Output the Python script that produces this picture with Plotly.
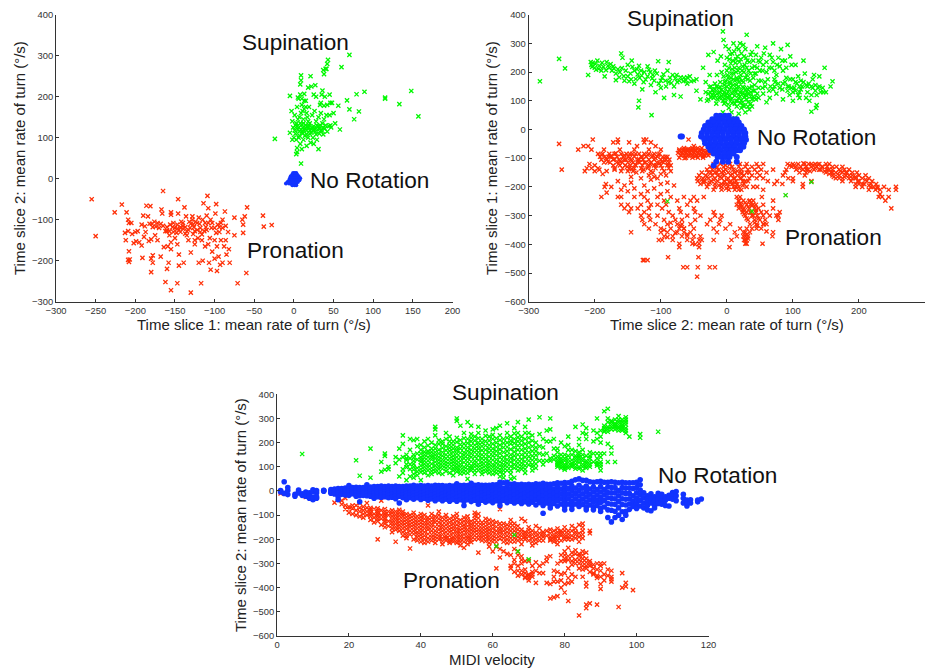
import plotly.graph_objects as go

W, H = 932, 668
RED, GREEN, BLUE = "#ff3008", "#00f800", "#1233ff"
FONT = "Liberation Sans"

# ---------- Panel 1 data (time slice 1, time slice 2) ----------
p1_red = [(-255,-50),(-250,-140),(-226,-82),(-217,-63),(-213,-132),(-212,-150),(-211,-82),(-209,-100),(-209,-128),(-208,-108),(-209,-198),(-208,-203),(-208,-177),(-207,-197),(-205,-108),(-204,-135),(-202,-157),(-200,-130),(-199,-153),(-197,-128),(-195,-155),(-192,-112),(-192,-163),(-191,-193),(-190,-90),(-189,-142),(-188,-116),(-187,-130),(-186,-66),(-184,-92),(-183,-152),(-182,-110),(-181,-67),(-180,-148),(-180,-195),(-179,-110),(-180,-228),(-178,-187),(-178,-205),(-176,-105),(-175,-138),(-174,-117),(-172,-150),(-170,-120),(-168,-190),(-167,-75),(-166,-85),(-165,-115),(-165,-30),(-164,-167),(-162,-128),(-160,-118),(-160,-220),(-162,-252),(-159,-165),(-158,-205),(-157,-128),(-156,-112),(-155,-82),(-155,-88),(-155,-155),(-155,-172),(-155,-272),(-152,-108),(-150,-120),(-150,-145),(-148,-132),(-147,-112),(-147,-160),(-147,-255),(-146,-50),(-146,-85),(-145,-185),(-145,-212),(-143,-130),(-142,-105),(-140,-115),(-139,-205),(-138,-70),(-137,-118),(-136,-92),(-135,-138),(-133,-125),(-132,-105),(-130,-180),(-130,-278),(-128,-92),(-127,-135),(-126,-118),(-125,-160),(-124,-105),(-122,-125),(-121,-145),(-120,-95),(-120,-205),(-118,-130),(-117,-255),(-115,-100),(-115,-200),(-114,-60),(-113,-128),(-112,-165),(-110,-90),(-110,-125),(-109,-42),(-108,-72),(-107,-205),(-106,-145),(-105,-100),(-105,-222),(-104,-120),(-103,-178),(-100,-150),(-100,-195),(-99,-85),(-98,-62),(-97,-225),(-96,-112),(-95,-190),(-94,-130),(-93,-210),(-92,-108),(-90,-205),(-90,-120),(-88,-165),(-87,-80),(-86,-150),(-86,-115),(-85,-185),(-83,-130),(-82,-172),(-81,-205),(-75,-95),(-75,-138),(-71,-255),(-65,-100),(-64,-112),(-64,-132),(-60,-230),(-62,-92),(-59,-70),(-39,-90),(-38,-117),(-28,-113),(-140,-122),(-125,-128),(-118,-120),(-160,-128),(-135,-128),(-145,-125),(-128,-100),(-140,-108),(-112,-108),(-100,-120),(-152,-130),(-168,-110),(-130,-110),(-122,-108),(-108,-108),(-143,-118),(-137,-134),(-131,-120),(-127,-112),(-119,-110),(-116,-136),(-111,-118),(-147,-122),(-153,-118),(-157,-138),(-103,-108),(-98,-132),(-94,-118),(-90,-100),(-172,-108),(-178,-118),(-125,-150),(-133,-150),(-116,-150),(-108,-160),(-97,-165),(-92,-150)]
p1_green = [(-24,97),(70,302),(60,272),(43,290),(42,280),(40,268),(37,265),(38,255),(41,268),(9,252),(9,240),(8,230),(21,250),(27,228),(18,222),(22,225),(36,215),(35,205),(45,205),(34,185),(39,200),(-5,202),(5,198),(8,205),(13,207),(25,205),(28,200),(33,180),(38,178),(42,180),(46,185),(48,185),(56,178),(67,191),(79,206),(89,212),(115,198),(115,195),(133,182),(148,214),(157,152),(70,169),(82,164),(76,145),(58,120),(52,135),(50,160),(45,155),(9,37),(3,60),(4,65),(10,72),(4,75),(31,72),(-5,112),(-3,165),(-2,140),(-1,125),(-2,95),(1,155),(2,130),(2,110),(3,95),(4,175),(5,145),(5,120),(6,195),(7,105),(8,135),(8,85),(9,160),(10,180),(10,115),(11,125),(12,95),(12,145),(13,170),(14,105),(15,130),(15,190),(16,80),(16,118),(17,150),(18,100),(18,125),(19,175),(20,110),(20,135),(21,88),(22,120),(23,155),(24,100),(25,128),(25,85),(26,165),(27,115),(28,140),(29,95),(30,120),(31,150),(32,110),(33,130),(34,160),(35,118),(36,135),(37,108),(38,145),(39,122),(40,130),(41,155),(42,115),(44,128),(46,130),(47,125),(3,135),(6,125),(9,120),(11,110),(14,122),(17,128),(20,118),(23,125),(26,122),(29,130),(32,122),(6,100),(0,100),(12,135),(18,140),(1,118),(4,128),(7,115),(10,132),(13,118),(16,108),(19,130),(22,112),(25,118),(28,108),(31,128),(34,118),(37,125),(7,150),(11,165),(15,175),(13,190),(10,195),(16,160)]
p1_blue_rows = [(14,[-1,1,3]),(10,[-2,0,2,4]),(6,[-4,-2,0,2,4,6]),(1,[-5,-3,-1,1,3,6,8]),(-4,[-6,-4,-2,0,2,4,7]),(-8,[-8,-5,-2,1,3,5]),(-12,[-10,-6,-3,0,3]),(-16,[-2,1,3])]

# ---------- Panel 2 data (time slice 2, time slice 1) ----------
p2_green = [(-283,168),(-254,246),(-245,213),(-133,100),(-134,77),(-114,50),(-206,235),(-205,225),(-200,215),(-196,240),(-190,205),(-185,185),(-182,235),(-178,215),(-172,220),(-168,195),(-165,210),(-160,265),(-158,250),(-155,170),(-150,225),(-146,195),(-144,240),(-140,160),(-136,210),(-132,180),(-128,140),(-125,200),(-120,220),(-115,155),(-112,190),(-108,130),(-104,238),(-100,170),(-95,110),(-92,150),(-88,235),(-82,190),(-80,120),(-75,165),(-70,115),(-65,180),(-60,160),(-56,185),(-50,170),(-46,175),(-210,190),(-203,232),(-198,208),(-193,222),(-187,218),(-180,222),(-174,205),(-168,172),(-162,200),(-156,186),(-150,185),(-145,175),(-140,205),(-135,192),(-130,205),(-126,165),(-120,185),(-116,200),(-110,170),(-106,195),(-100,145),(-96,192),(-88,165),(-84,162),(-78,178),(-72,170),(-66,168),(-60,182),
(-46,135),(-40,105),(-36,215),(-32,165),(-30,100),(-28,260),(-26,190),(-22,120),(-20,270),(-18,140),(-16,90),(-14,240),(-12,110),(-10,165),(-8,200),(-6,60),(-4,130),(-2,95),(0,150),(-20,110),(-25,130),(-15,125),(-12,145),(-8,115),(-4,155),(-2,120),(2,110),(4,140),(6,105),(8,125),(10,155),(12,90),(14,130),(16,100),(18,150),(20,115),(22,135),(24,95),(26,145),(28,120),(30,105),(32,140),(34,125),(36,90),(38,150),(40,115),(42,135),(44,105),(46,125),(48,145),(-28,125),(-24,150),(-18,160),(-10,130),(-6,100),(0,125),(5,160),(12,140),(18,120),(24,125),(30,130),(36,115),(42,155),(48,110),(3,75),(7,60),(12,40),(18,55),(22,75),(28,60),(34,70),(15,80),(25,85),(38,80),(-5,185),(-3,225),(0,205),(0,250),(2,180),(3,280),(4,165),(6,230),(7,195),(8,265),(10,175),(10,300),(12,215),(14,245),(15,180),(15,285),(17,205),(18,165),(19,235),(20,300),(21,190),(22,265),(23,170),(24,220),(25,295),(26,200),(28,180),(29,250),(30,330),(30,215),(32,175),(34,235),(36,195),(38,270),(40,180),(42,220),(44,195),(46,290),(48,240),(50,205),(52,170),(-6,342),(-5,312),(-2,290),(-9,255),(-15,190),(-3,165),
(52,250),(55,225),(58,285),(60,200),(62,175),(65,260),(68,215),(70,235),(70,300),(73,165),(75,190),(78,250),(80,220),(82,280),(85,160),(85,205),(88,240),(90,180),(92,295),(94,150),(96,255),(98,225),(100,175),(102,145),(104,225),(106,160),(108,185),(110,130),(112,170),(114,150),(116,240),(118,195),(120,155),(122,130),(124,160),(128,120),(130,145),(132,190),(134,155),(136,120),(138,145),(140,185),(142,130),(145,145),(148,215),(150,130),(157,150),(160,168),(130,175),(125,100),(120,110),(110,110),(100,100),(95,120),(85,105),(75,125),(70,140),(65,110),(60,95),(55,125),(135,75),(128,62),(136,85),(54,145),(58,165),(66,150),(72,175),(80,145),(88,165),(96,175),(104,165),(112,140)]
p2_green_more = [(-204,218),(-199,228),(-194,211),(-189,232),(-183,207),(-176,228),(-171,212),(-163,182),(-159,214),(-153,205),(-148,168),(-143,218),(-138,176),(-133,222),(-129,188),(-123,174),(-118,208),(-113,178),(-109,205),(-103,160),(-98,180),(-93,170),(-90,205),(-86,180),(-80,150),(-76,190),(-70,182),(-62,172),(-54,168),
(-32,130),(-28,105),(-26,148),(-24,112),(-22,138),(-20,128),(-18,118),(-16,150),(-14,105),(-12,128),(-10,112),(-8,138),(-6,122),(-4,108),(-2,142),(0,112),(2,130),(4,118),(6,148),(8,108),(10,135),(12,118),(14,100),(16,140),(18,110),(20,130),(22,102),(24,148),(26,112),(28,138),(30,118),(32,95),(34,145),(36,130),(38,105),(40,135),(42,110),(-10,148),(-4,90),(2,88),(8,92),(14,155),(20,92),(26,80),(32,80),(-2,170),(1,190),(3,215),(4,245),(5,262),(6,180),(8,210),(9,240),(10,195),(11,272),(12,170),(13,232),(14,200),(16,255),(16,175),(18,215),(18,280),(20,180),(21,245),(23,205),(25,165),(26,255),(27,225),(28,280),(30,190),(31,240),(33,205),(35,170),(36,260),(38,215),(40,240),(42,195),(44,260),(46,215),(48,170),(50,235),(54,205),(56,265),(60,235),(64,215),(68,250),(72,205),(76,225),(84,240),(90,215),(58,150),(64,135),(72,150),(78,160),(84,140),(92,150),(98,145),(104,135),(110,150),(116,165),(122,150),(128,150),(134,135),(140,150),(146,130),(100,130),(108,120),(92,135)]
p2_green_over = [(128,-183),(89,-229),(38,-285),(-90,-250)]
p2_red_rows = [
(-85,[-195,-188,-178,-170,-160,-152,-143,-133,-125,-118,-110,-102]),
(-95,[-192,-185,-176,-166,-157,-149,-140,-130,-122,-113,-105,-97,-90]),
(-105,[-190,-182,-172,-163,-153,-145,-135,-127,-118,-110,-100,-92,-87]),
(-115,[-186,-177,-167,-158,-150,-142,-132,-123,-115,-106,-96,-88]),
(-125,[-172,-162,-154,-146,-138,-128,-118,-110,-100,-90,-85]),
(-135,[-212,-205,-195,-170,-158,-148,-140,-130,-120,-108,-98]),
(-145,[-215,-200,-182,-160,-150,-142,-128,-115,-95,-85]),
(-70,[-225,-205,-186,-162,-140,-118,-100,-72,-66,-60,-54,-48]),
(-65,[-65,-52,-44,-38]),
(-75,[-72,-66,-60,-54,-48,-42,-36,-30]),
(-82,[-74,-68,-62,-56,-50,-44,-38,-32,-26,-22]),
(-90,[-70,-64,-58,-52,-46,-40,-34,-28]),
(-98,[-72,-62,-52,-44,-36]),
(-58,[-217,-210,-136,-108,-50]),
(-45,[-172,-165,-148,-125,-115]),
(-35,[-126,-122,-203,-165,-58]),
(-50,[-254]),
(-140,[-250]),
(-120,[-20,-10,5,20,30,45,55,92,100,108,118,128,134,140,150,155]),
(-130,[-25,-15,-5,8,18,28,38,48,98,104,112,120,128,136,144,152,160,166,175]),
(-140,[-30,-22,-12,-2,10,22,32,42,52,70,90,105,115,122,132,140,152,160,170,178,185]),
(-150,[-38,-28,-18,-8,2,12,22,34,46,60,88,110,120,150,158,165,175,182,190,197]),
(-160,[-42,-32,-22,-14,-4,6,16,26,38,50,85,118,160,170,180,190,200,210]),
(-170,[-45,-36,-28,-18,-8,2,12,22,34,45,55,93,100,165,175,185,195,205,215]),
(-180,[-44,-34,-24,-14,-4,6,14,24,32,62,76,100,128,175,188,198,212,220]),
(-190,[-40,-28,-18,-8,0,8,16,26,72,84,115,200,208,218,226]),
(-200,[-30,-18,-8,2,10,18,30,40,46,115,195,205,218,228,238,256]),
(-210,[-20,-8,3,12,22,55,215,225,232,245,256]),
(-235,[-165,-160,-190,-140,-125,-105,-85,-65,-50,-35,15,20,53,230,235,245]),
(-248,[-120,-95,-75,-55,-45,18,25,35,40,70,240]),
(-262,[-160,-150,-130,-115,-105,-92,-60,15,22,30,36,40,44,55]),
(-275,[-155,-145,-135,-118,-98,-72,-50,18,26,34,42,48,70,249]),
(-288,[-148,-125,-88,-70,-48,-20,24,30,36,44,52,60,80]),
(-300,[-130,-118,-105,-82,-60,-40,-18,-8,28,38,46,55,65,75,78]),
(-315,[-128,-116,-95,-78,-68,-48,-25,-10,32,42,50,58,78]),
(-330,[-125,-108,-90,-75,-68,-55,-30,-12,5,35,45,55,60]),
(-345,[-118,-100,-85,-72,-65,-50,-20,-2,20,30,45]),
(-358,[-145,-100,-90,-75,-65,-55,-15,12,25,28,35,70]),
(-372,[-95,-82,-68,-60,-50,-40,15,25,28,32,69]),
(-385,[-103,-98,-82,-60,-42,-38,-20,7,28,30]),
(-398,[-72,-52,-42,30,28,54]),
(-410,[-72,-42,4]),
(-445,[-43,-89]),
(-455,[-127,-120,-125]),
(-480,[-66,-44,-26,-18,-60]),
(-513,[-45]),
]
p2_red_more = [(-190,-88),(-183,-100),(-175,-92),(-168,-83),(-162,-110),(-155,-90),(-147,-100),(-138,-85),(-135,-112),(-128,-96),(-120,-88),(-116,-120),(-108,-100),(-104,-88),(-98,-112),(-93,-95),(-89,-122),(-180,-112),(-170,-103),(-164,-120),(-156,-105),(-151,-130),(-144,-110),(-139,-122),(-133,-104),(-125,-115),(-119,-130),(-112,-90),(-107,-125),(-102,-118),(-94,-108),(-147,-85),(-144,-138),(-137,-150),(-126,-140),(-118,-160),(-112,-150),(-105,-170),(-100,-155),(-92,-160),(-88,-135),(-170,-140),(-178,-95),(-208,-120),(-200,-125),(-193,-140),(-188,-155),(-185,-200),(-183,-190),(-182,-220),
(-69,-78),(-63,-72),(-57,-78),(-51,-70),(-45,-78),(-39,-72),(-33,-78),(-27,-72),(-66,-86),(-60,-92),(-54,-86),(-48,-94),(-42,-86),(-36,-92),(-30,-86),(-24,-80),(-64,-100),(-58,-68),
(-24,-150),(-16,-135),(-10,-165),(-5,-145),(0,-175),(4,-135),(8,-155),(12,-185),(16,-145),(20,-170),(24,-195),(-30,-165),(-26,-185),(-20,-175),(-12,-195),(-6,-155),(-1,-205),(5,-185),(10,-170),(14,-200),(18,-210),(22,-155),(28,-180),(30,-150),(-35,-185),(-38,-175),(-2,-125),(-15,-150),(-4,-190),
(20,-260),(24,-280),(28,-255),(32,-270),(36,-290),(40,-300),(44,-280),(48,-310),(26,-295),(30,-310),(34,-250),(38,-265),(42,-325),(22,-270),(18,-250),(46,-335),(52,-345),(56,-330),(60,-355),(38,-345),(30,-365),(26,-385),(32,-380),(-65,-345),(-70,-335),(-78,-360),(-85,-325),(-60,-365),(-95,-350),(-48,-400),(-52,-385),(-90,-375),
(95,-125),(102,-125),(110,-135),(116,-118),(124,-120),(130,-125),(138,-122),(145,-130),(120,-138),(126,-145),(134,-135),(142,-140),(148,-145),(155,-140),(160,-150),(168,-155),(172,-145),(180,-150),(185,-160),(190,-170),(195,-165),(200,-180),(205,-190),(210,-175),(215,-195),(222,-200),(228,-205),(178,-165),(170,-170),(162,-165),(155,-155),(195,-190),(232,-225),
(-150,-215),(-140,-205),(-130,-225),(-120,-215),(-110,-205),(-100,-225),(-90,-215),(-175,-200),(-160,-210),(-155,-195),(-145,-185),(-125,-195),(-115,-175),(-100,-190),(-90,-185),(-80,-195),(-130,-170),(-145,-165),(-165,-180),(-110,-165)]
p2_blue_rows = [(48,[-16,-10,-3,3]),(36,[-22,-14,-6,2,10,15]),(24,[-28,-20,-12,-4,4,12,18]),(12,[-33,-25,-17,-9,-1,7,15,22]),(0,[-35,-27,-19,-11,-3,5,13,21,26]),(-12,[-38,-30,-22,-14,-6,2,10,18,26,28]),(-24,[-38,-30,-22,-14,-6,2,10,18,26,28,-70,-68,-39]),(-36,[-34,-26,-18,-10,-2,6,14,22,29]),(-48,[-33,-25,-17,-9,-1,7,15,23,26]),(-60,[-28,-20,-12,-4,4,12,20,25]),(-72,[-25,-17,-9,-1,7,15,20]),(-84,[-20,-12,-4,4,10]),(-96,[-14,-8,-2,4,15]),(-112,[-16,-6,2,15]),(-125,[-20])]

# ---------- Panel 3 data (MIDI velocity, time slice 2) ----------
p3_green_cols = [(7,[153]),(22,[127]),(23,[63]),(26,[55,175]),(29,[120,80]),(30,[145,155,88]),(31,[90,100]),(33,[140,115]),(34,[60,130,175]),(35,[195,230,140,90,75]),(36,[45,150,110,135]),(37,[215,170,135,110,90,60]),(38,[210,150,125,100,70,55]),(39,[215,185,155,130,95,80,65]),(40,[45,140,170,190,120,90]),(41,[205,180,150,125,100,75]),(42,[165,215,140,110,85,65]),(43,[200,175,150,130,95,70]),(44,[265,255,230,190,160,135,105,80]),(45,[210,170,140,115,90,75]),(46,[195,160,130,105,70]),(47,[240,215,185,150,120,95]),(48,[225,190,165,135,110,75]),(49,[205,175,145,120,95,65]),(50,[300,290,220,180,155,125,100,80]),(51,[270,210,175,140,110,85]),(52,[240,195,160,135,100,75]),(53,[285,215,180,150,120,90,50]),(54,[270,235,205,170,140,105,85]),(55,[225,190,160,125,100,70]),(56,[265,240,200,175,145,110,85]),(57,[215,185,150,120,95,70]),(58,[250,205,170,135,105,80]),(59,[225,190,160,125,100,75]),(60,[255,215,175,145,110,85,70]),(61,[260,200,165,130,100,75]),(62,[270,230,190,155,120,90,60]),(63,[215,180,140,110,85,55]),(64,[280,240,200,165,130,100]),(65,[225,195,150,120,85,50]),(66,[260,215,180,145,110]),(67,[285,240,205,170,130,100]),(68,[225,190,150,115,90]),(69,[265,215,175,140,105,75]),(70,[295,240,200,160,125]),(71,[230,185,145,110,85]),(72,[200,165,130,95]),(73,[305,235,155]),(74,[215,125,180]),(75,[250,155]),(76,[300,255,205,135,125]),(77,[175,215]),(78,[160,130,115,100]),(79,[200,150,125,105]),(80,[185,150,135,110,95]),(81,[225,190,130,105]),(82,[170,115,100]),(83,[265,165,145,125,100]),(84,[215,150,130,100]),(85,[275,240,170,125,110,85]),(86,[235,215,145,115,95]),(87,[160,135,110,100]),(88,[155,120,250]),(89,[300,240,215,120,105,155]),(90,[250,225,140,110,85]),(91,[330,260,250,155]),(92,[340,300,265,195,120]),(93,[290,265,275,180,155]),(94,[280,265,270,120]),(95,[310,285,260,275]),(96,[295,275,265,250,270]),(97,[305,285,260,240]),(98,[225]),(101,[235,220]),(106,[245]),(62,[35]),(66,[55])]
p3_green_more = [(36,[128,98]),(38,[138,88,112]),(40,[155,105,78,130]),(41,[162,138,112,88]),(42,[188,155,125,98]),(43,[162,112,82,140]),(44,[175,148,120,92]),(45,[195,155,128,102]),(46,[178,145,118,92,205]),(47,[168,135,108,82]),(48,[205,178,150,122,95]),(49,[190,160,132,108,85]),(50,[202,168,140,112,92]),(51,[192,158,125,98,72]),(52,[218,178,148,118,88]),(53,[198,165,135,105,75]),(54,[220,188,155,122,95]),(55,[208,175,142,112,85]),(56,[218,188,160,128,98]),(57,[200,168,135,108,82]),(58,[228,188,152,120,92]),(59,[208,175,142,112,88]),(60,[232,195,160,128,98]),(61,[218,182,148,115,88]),(62,[210,172,138,105,78]),(63,[198,160,125,98,70]),(64,[220,182,148,115,85]),(65,[208,172,135,102,70]),(66,[238,198,162,128,95]),(67,[222,188,150,115,85]),(68,[208,170,132,102]),(69,[240,195,158,122,90]),(70,[220,180,142,108]),(71,[208,165,128,100]),(72,[180,148,112]),(73,[125,185]),(74,[150,110]),(75,[125,205]),(77,[145,130]),(78,[142,122,108,175]),(79,[135,115,95]),(80,[125,102,88]),(81,[145,118,95,170]),(82,[150,128,108]),(83,[135,112,92]),(84,[160,140,118,92,190]),(85,[150,135,100]),(86,[125,105,260]),(87,[145,122]),(88,[205]),(89,[135,112]),(90,[120,100,200,155]),(91,[270,245]),(92,[285,255,245]),(93,[285,255]),(94,[295,275,255]),(95,[295,265,250]),(96,[285,258]),(97,[295,275,250])]
p3_green_over = [(61,-228),(66,-182),(67,-250),(70,-283)]
p3_red_cols = [(1,[-10]),(8,[-25]),(16,[-48]),(18,[-40,-55]),(19,[-60,-75,-30]),(20,[-65,-90,-75]),(21,[-72,-95,-60]),(22,[-80,-60,-100]),(23,[-70,-85,-105,-50]),(24,[-65,-80,-95,-110]),(25,[-70,-85,-100,-50]),(26,[-70,-88,-105,-120]),(27,[-75,-95,-110,-130]),(28,[-72,-90,-105,-125,-200]),(29,[-80,-100,-115,-140,-40]),(30,[-75,-95,-115,-135,-150]),(31,[-85,-100,-125,-145]),(32,[-80,-105,-130,-155,-170]),(33,[-85,-110,-135,-160,-210]),(34,[-90,-115,-140,-165]),(35,[-85,-105,-130,-155,-185]),(36,[-95,-120,-145,-175,-195]),(37,[-100,-125,-150,-180,-238]),(38,[-90,-115,-140,-165,-200]),(39,[-105,-130,-155,-180,-170]),(40,[-95,-120,-145,-170,-210]),(41,[-100,-130,-155,-185,-215]),(42,[-110,-135,-160,-195,-60]),(43,[-95,-125,-150,-180,-205]),(44,[-105,-130,-165,-190,-215]),(45,[-85,-115,-145,-175,-200]),(46,[-110,-140,-165,-195,-220]),(47,[-100,-125,-155,-185,-205]),(48,[-115,-145,-170,-200,-215]),(49,[-105,-135,-160,-190,-210]),(50,[-95,-125,-155,-180,-205]),(51,[-120,-150,-175,-200,-225]),(52,[-110,-140,-165,-195,-235]),(53,[-105,-130,-160,-185,-205]),(54,[-125,-150,-175,-200]),(55,[-90,-115,-145,-170,-200]),(56,[-95,-130,-160,-185,-255]),(57,[-130,-155,-180,-205]),(58,[-115,-145,-170,-195]),(59,[-120,-150,-175,-200,-230]),(60,[-125,-155,-185,-210,-250]),(61,[-130,-165,-195,-230,-320]),(62,[-75,-135,-160,-185,-240,-275]),(63,[-135,-165,-195,-250]),(64,[-140,-170,-200,-260]),(65,[-120,-150,-180,-210,-265,-320,-310]),(66,[-135,-165,-195,-240,-285,-335]),(67,[-145,-175,-205,-250,-310,-350]),(68,[-115,-160,-185,-220,-270,-330,-300]),(69,[-125,-170,-190,-290,-355,-325]),(70,[-150,-175,-205,-290,-360,-345]),(71,[-165,-195,-225,-310,-335,-355]),(72,[-145,-185,-215,-295,-330,-380]),(73,[-175,-205,-340,-310]),(74,[-170,-190,-300,-340]),(75,[-185,-165,-275,-380,-290]),(76,[-160,-190,-205,-385,-270,-445]),(77,[-165,-180,-200,-330,-375,-355,-440]),(78,[-170,-190,-220,-300,-335,-375,-435]),(79,[-165,-205,-265,-290,-345,-370,-400]),(80,[-150,-180,-200,-250,-280,-340,-385,-420]),(81,[-165,-190,-235,-270,-320,-360,-380,-455]),(82,[-145,-185,-255,-290,-345,-375]),(83,[-170,-195,-245,-285,-355]),(84,[-140,-175,-210,-270,-300,-320,-515]),(85,[-135,-165,-195,-250,-280,-295,-325,-355]),(86,[-255,-295,-310,-380,-395,-470,-485]),(87,[-165,-175,-300,-335,-465]),(88,[-305,-340,-345]),(89,[-300,-350,-360,-470]),(90,[-310,-355,-385,-405]),(91,[-300,-345,-370]),(92,[-325,-350]),(93,[-330,-355,-365,-375]),(95,[-480]),(96,[-340,-400]),(97,[-380,-395]),(99,[-410])]
p3_red_more = [(26,[-78,-95]),(28,[-82,-98,-115]),(30,[-85,-105,-125]),(32,[-92,-118,-142]),(33,[-98,-122,-148]),(34,[-78,-102,-128,-152]),(35,[-95,-118,-142,-170]),(36,[-108,-132,-158,-185]),(37,[-112,-138,-165]),(38,[-102,-128,-152,-178]),(39,[-118,-142,-192,-205]),(40,[-108,-132,-158,-182,-195]),(41,[-115,-142,-170,-200]),(42,[-122,-148,-178,-210]),(43,[-110,-138,-165,-192]),(44,[-118,-148,-178,-202]),(45,[-100,-130,-160,-188]),(46,[-125,-152,-180,-208]),(47,[-112,-140,-170,-195]),(48,[-130,-158,-185,-208]),(49,[-120,-148,-175,-200]),(50,[-110,-140,-168,-192,-215]),(51,[-135,-162,-188,-212]),(52,[-125,-152,-180,-210]),(53,[-118,-145,-172,-195,-220]),(54,[-138,-162,-188,-212]),(55,[-102,-130,-158,-185]),(56,[-112,-145,-172,-198]),(57,[-142,-168,-192]),(58,[-130,-158,-182,-208]),(59,[-135,-162,-188,-215]),(60,[-140,-170,-198]),(61,[-148,-180,-210]),(62,[-148,-172,-198]),(63,[-150,-180,-210]),(64,[-155,-185,-215]),(65,[-135,-165,-195]),(66,[-150,-180,-210,-300]),(67,[-160,-190,-265,-330]),(68,[-172,-200,-285,-345]),(69,[-180,-200,-340,-360]),(70,[-162,-188,-350,-370]),(71,[-180,-210,-345]),(72,[-172,-200]),(73,[-190,-155]),(74,[-180,-205]),(76,[-175,-200]),(77,[-190,-210]),(78,[-155,-180,-205]),(79,[-185,-175]),(80,[-165,-190,-265,-290]),(81,[-178,-200,-285]),(82,[-165,-200,-270,-305]),(83,[-155,-180,-260,-300]),(84,[-190,-285,-260]),(85,[-150,-180,-265,-310]),(86,[-280,-320]),(87,[-310,-290]),(88,[-320]),(89,[-325]),(90,[-330,-300])]
p3_blue_cols = [(1,[2,0,-4]),(2,[38,-10]),(3,[-15,14,2]),(5,[-22,-14]),(6,[4,-2,-8]),(7,[-12,-18]),(8,[-4,-14,-22]),(9,[-30,-8,-20]),(10,[5,-2,-36,-25]),(11,[-8,-30,-24,2]),(13,[2,-1,3]),
(15,[6,1,-5,-9]),(16,[8,2,-4,-12]),(17,[10,4,-3,-10,-24,-36]),(18,[10,3,-6,-14]),(19,[12,5,-2,-10,-17]),(20,[22,8,0,-8,-18]),(21,[14,6,-3,-11]),(22,[15,7,0,-8,-16,-22]),(23,[14,5,-5,-12,-20,-45]),(24,[14,7,-1,-9,-18]),(25,[26,14,6,-2,-10,-20]),(26,[16,7,-3,-13,-22]),(27,[18,8,-1,-9,-20,-30]),(28,[18,8,-4,-14,-24]),(29,[20,10,1,-8,-18,-26]),(30,[18,8,-3,-13,-24]),(31,[20,10,1,-9,-19,-28]),(32,[18,8,-4,-14,-26]),(33,[20,10,0,-10,-20,-32]),(34,[18,9,-1,-11,-22,-50]),(35,[18,6,-5,-16,-28]),(36,[20,10,0,-11,-22,-36]),(37,[20,8,-5,-16,-28]),(38,[24,12,1,-10,-22,-34]),(39,[20,7,-5,-16,-28]),(40,[22,12,1,-11,-23,-35]),(41,[20,6,-5,-18,-30]),(42,[22,12,1,-11,-24,-38]),(43,[20,6,-6,-18,-32]),(44,[24,12,0,-12,-25,-40]),(45,[22,6,-6,-20,-33]),(46,[22,12,0,-13,-26,-40]),(47,[20,6,-7,-20,-34]),(48,[22,11,-1,-13,-26,-42]),(49,[20,5,-7,-20,-35]),(50,[30,14,1,-12,-26,-42]),(51,[22,6,-6,-20,-36]),(52,[24,12,-1,-14,-28,-44,-60]),(53,[22,6,-7,-21,-36]),(54,[32,16,2,-12,-27,-44]),(55,[24,7,-7,-22,-38]),(56,[26,12,-2,-15,-30,-46,-55]),(57,[24,6,-9,-23,-38]),(58,[24,12,-2,-16,-30,-46]),(59,[24,6,-9,-24,-40]),(60,[26,12,-2,-16,-31,-48]),(61,[26,6,-9,-24,-40]),(62,[36,18,2,-14,-30,-46,-60]),(63,[34,10,-6,-22,-38]),(64,[36,18,2,-14,-30,-48]),(65,[28,8,-9,-25,-42]),(66,[30,14,-1,-17,-33,-50]),(67,[26,6,-10,-26,-43]),(68,[28,14,-2,-18,-34,-52]),(69,[26,6,-11,-27,-45]),(70,[28,14,-3,-19,-36,-54]),(71,[26,6,-11,-28,-46]),(72,[30,15,-2,-18,-36,-58]),(73,[28,6,-11,-29,-48]),(74,[32,15,-2,-20,-38,-60,-92]),(75,[28,6,-12,-30,-50]),(76,[28,13,-4,-21,-38,-58,-70]),(77,[30,8,-11,-31,-52]),(78,[34,17,-2,-20,-40,-62]),(79,[32,8,-12,-32,-54]),(80,[35,17,-2,-22,-42,-64,-78]),(81,[34,10,-12,-32,-54]),(82,[40,20,1,-20,-42,-62,-76]),(83,[46,12,-10,-32,-54]),(84,[50,24,2,-20,-42,-64]),(85,[44,12,-12,-34,-56]),(86,[44,20,-2,-24,-46,-68,-78]),(87,[38,8,-14,-36,-58]),(88,[36,16,-4,-26,-46,-66,-78]),(89,[38,6,-16,-38,-60]),(90,[40,18,-4,-26,-48,-72,-85]),(91,[36,6,-16,-40,-66]),(92,[36,16,-6,-28,-52,-78,-110]),(93,[38,14,-8,-30,-54,-80,-128]),(94,[36,14,-8,-32,-56,-84,-110]),(95,[34,2,-20,-44,-70,-100]),(96,[36,14,-8,-32,-56,-86,-118]),(97,[34,12,-10,-34,-58,-84,-100]),(98,[34,12,-10,-32,-54,-76]),(99,[34,10,-20,-42,-64]),(100,[36,14,-8,-30,-52,-72]),(101,[46,26,4,-16,-38,-62]),(102,[-8,-28,-50,-70]),(103,[-20,-34,-44,-60,-78]),(104,[-12,-30,-50,-82]),(105,[-24,-40,-60,-70]),(106,[-10,-22,-34,-52]),(107,[-14,-28,-42,-55]),(108,[-24,-38,-60]),(109,[-18,-30,-62]),(110,[-6,-18,-34]),(111,[-2,-20,-40]),(113,[-14,-30,-50]),(114,[-38,-62,-48]),(115,[-36,-50]),(117,[-45,-38]),(118,[-33])]

# ---------- Tick and text content ----------
p1_xticks = [-300,-250,-200,-150,-100,-50,0,50,100,150,200]
p1_yticks = [-300,-200,-100,0,100,200,300,400]
p2_xticks = [-300,-200,-100,0,100,200,300]
p2_yticks = [-600,-500,-400,-300,-200,-100,0,100,200,300,400]
p3_xticks = [0,20,40,60,80,100,120]
p3_yticks = p2_yticks


def rows(data):
    out = []
    for y, xs in data:
        out += [(x, y) for x in xs]
    return out


def cols(data):
    out = []
    for x, ys in data:
        out += [(x, y) for y in ys]
    return out


def xmarks(pts, color, ax, size=4.2):
    return go.Scatter(x=[p[0] for p in pts], y=[p[1] for p in pts], mode="markers",
                      xaxis=f"x{ax}", yaxis=f"y{ax}", showlegend=False, cliponaxis=False,
                      marker=dict(symbol="x-thin", size=size, color=color,
                                  line=dict(width=1.3, color=color)))


def dots(pts, ax, size):
    return go.Scatter(x=[p[0] for p in pts], y=[p[1] for p in pts], mode="markers",
                      xaxis=f"x{ax}", yaxis=f"y{ax}", showlegend=False, cliponaxis=False,
                      marker=dict(symbol="circle", size=size, color=BLUE, line=dict(width=0)))


fig = go.Figure()
fig.add_trace(xmarks(p1_green, GREEN, 1))
fig.add_trace(xmarks(p1_red, RED, 1))
fig.add_trace(dots(rows(p1_blue_rows), 1, 4))

fig.add_trace(xmarks(p2_green + p2_green_more, GREEN, 2))
fig.add_trace(xmarks(rows(p2_red_rows) + p2_red_more, RED, 2))
fig.add_trace(dots(rows(p2_blue_rows), 2, 6))
fig.add_trace(xmarks(p2_green_over, "#22dd00", 2))

fig.add_trace(xmarks(cols(p3_green_cols) + cols(p3_green_more), GREEN, 3))
fig.add_trace(xmarks(cols(p3_red_cols) + cols(p3_red_more), RED, 3))
fig.add_trace(dots(cols(p3_blue_cols), 3, 5.6))
fig.add_trace(xmarks(p3_green_over, "#22dd00", 3))


def axis(px0, px1, span, ticks, horizontal, anchor):
    dom = [px0 / W, px1 / W] if horizontal else [1 - px1 / H, 1 - px0 / H]
    return dict(domain=dom, range=span, tickmode="array", tickvals=ticks, ticks="inside",
                ticklen=3, tickwidth=1, tickcolor="#333", linecolor="#333", linewidth=1,
                showline=True, showgrid=False, zeroline=False, anchor=anchor, automargin=False,
                tickfont=dict(family=FONT, size=9.4, color="#333"))


label_a = "Time slice 1: mean rate of turn (°/s)"
label_b = "Time slice 2: mean rate of turn (°/s)"
fig.update_layout(
    width=W, height=H, margin=dict(l=0, r=0, t=0, b=0, autoexpand=False), autosize=False,
    paper_bgcolor="white", plot_bgcolor="white",
    xaxis=axis(56, 452.5, [-300, 200], p1_xticks, True, "y"),
    yaxis=axis(14.7, 301.7, [-300, 400], p1_yticks, False, "x"),
    xaxis2=axis(528.7, 925, [-300, 300], p2_xticks, True, "y2"),
    yaxis2=axis(14.7, 301.7, [-600, 400], p2_yticks, False, "x2"),
    xaxis3=axis(277, 708.5, [0, 120], p3_xticks, True, "y3"),
    yaxis3=axis(394.3, 636, [-600, 400], p3_yticks, False, "x3"),
)

for text, px, py, angle in [(label_a, 254, 324.5, 0), (label_b, 19, 158, -90),
                            (label_b, 727, 324.5, 0), (label_a, 491, 158, -90),
                            ("MIDI velocity", 492, 659, 0), (label_b, 240, 515, -90)]:
    fig.add_annotation(text=text, x=px / W, y=1 - py / H, xref="paper", yref="paper",
                       showarrow=False, xanchor="center", yanchor="middle", textangle=angle,
                       font=dict(family=FONT, size=15, color="#222"))

for text, px, py in [("Supination", 295, 43), ("No Rotation", 369, 180), ("Pronation", 295, 250),
                     ("Supination", 680, 18), ("No Rotation", 816, 137), ("Pronation", 833, 237),
                     ("Supination", 505, 393), ("No Rotation", 717, 475), ("Pronation", 451, 580)]:
    fig.add_annotation(text=text, x=px / W, y=1 - py / H, xref="paper", yref="paper",
                       showarrow=False, xanchor="center", yanchor="middle",
                       font=dict(family=FONT, size=22.6, color="#111"))

fig.write_html("out.html", config={"displayModeBar": False},
               post_script="document.body.style.margin='0';")
